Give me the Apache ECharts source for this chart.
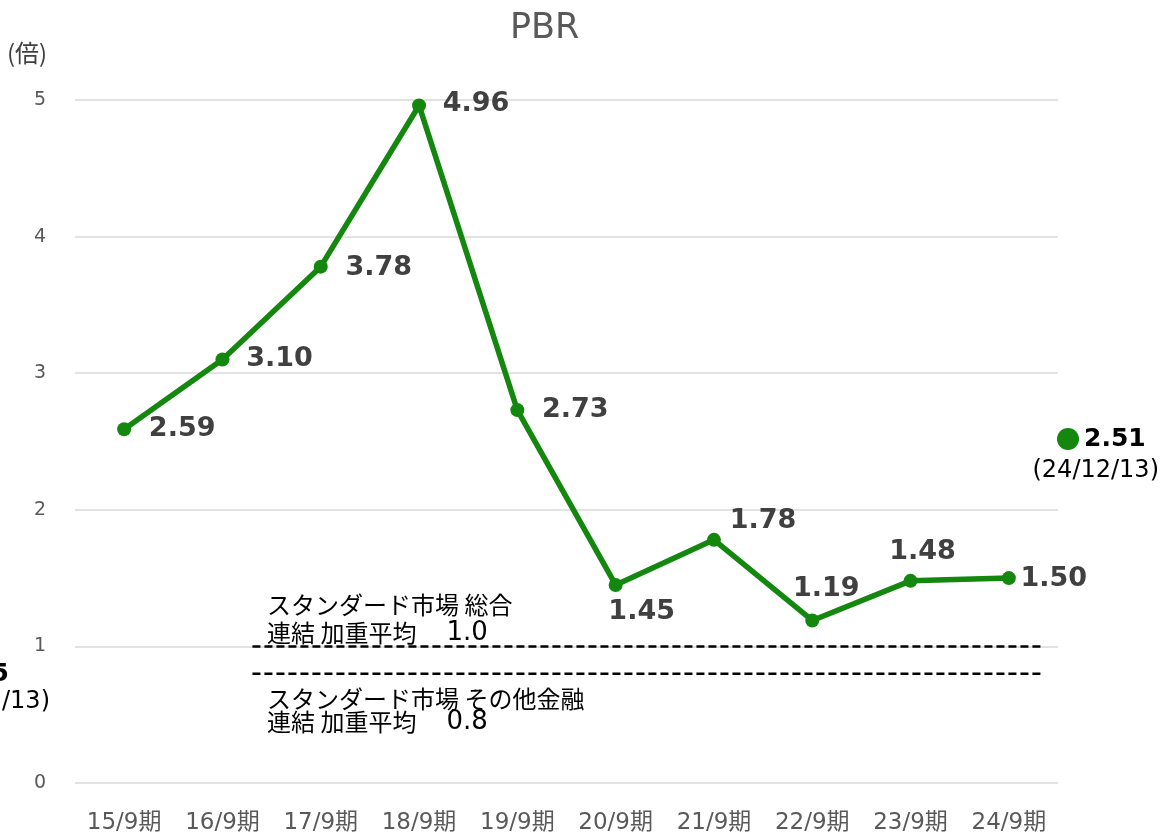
<!DOCTYPE html>
<html><head><meta charset="utf-8">
<script src="https://cdn.jsdelivr.net/npm/echarts@6/dist/echarts.min.js"></script>
<style>html,body{margin:0;padding:0;background:#fff}#c{width:1163px;height:836px}</style>
</head><body><div id="c"></div>
<script>
// ---- data ----
const categories = ['15/9期','16/9期','17/9期','18/9期','19/9期','20/9期','21/9期','22/9期','23/9期','24/9期'];
const pbrValues = [2.59, 3.10, 3.78, 4.96, 2.73, 1.45, 1.78, 1.19, 1.48, 1.50];
const yTickMin = 0, yTickMax = 5, yTickStep = 1;
const benchmarkTotal = 1.0;     // スタンダード市場 総合
const benchmarkFinance = 0.8;   // スタンダード市場 その他金融
const latestValue = 2.51;
const latestDate = '24/12/13';

// ---- styling ----
const FONT = "'DejaVu Sans','Noto Sans CJK JP',sans-serif";
const JP = "'Noto Sans CJK JP','DejaVu Sans',sans-serif";
const GREEN = '#13870e';
const labelOffsets = [[58,0],[57,-1],[58,1],[57,-1],[58,0],[26,27],[49,-19],[14,-31],[12,-29],[45,1]];
const dashSpan = [1.305, 9.36]; // horizontal extent of benchmark lines, in category units

const chart = echarts.init(document.getElementById('c'));
const seriesData = pbrValues.map((v, i) => ({
  value: v,
  label: { offset: labelOffsets[i] }
}));

chart.setOption({
  animation: false,
  title: {
    text: 'PBR', left: 505, top: 6,
    textStyle: { fontSize: 35, fontWeight: 'normal', color: '#595959', fontFamily: FONT }
  },
  grid: { left: 75, right: 105, top: 100, bottom: 53 },
  xAxis: [{
    type: 'category', data: categories, boundaryGap: true,
    axisLine: { show: false }, axisTick: { show: false },
    axisLabel: { color: '#595959', fontSize: 23, margin: 29, fontFamily: FONT }
  }, {
    type: 'value', min: -0.5, max: 9.5, show: false
  }],
  yAxis: {
    type: 'value', min: yTickMin, max: yTickMax, interval: yTickStep,
    axisLine: { show: false }, axisTick: { show: false },
    axisLabel: { color: '#595959', fontSize: 19, margin: 29, fontFamily: FONT },
    splitLine: { lineStyle: { color: '#d9d9d9', width: 1.5 } }
  },
  series: [{
    type: 'line', data: seriesData,
    symbol: 'circle', symbolSize: 14,
    lineStyle: { color: GREEN, width: 5.5 },
    itemStyle: { color: GREEN },
    label: {
      show: true, position: 'inside',
      formatter: p => p.value.toFixed(2),
      fontSize: 27, fontWeight: 'bold', color: '#404040', fontFamily: FONT
    },
    z: 3
  }, {
    type: 'line', xAxisIndex: 1, symbol: 'none', silent: true,
    data: [[dashSpan[0], benchmarkTotal], [dashSpan[1], benchmarkTotal]],
    lineStyle: { color: '#000', width: 2.5, type: [8, 4] }
  }, {
    type: 'line', xAxisIndex: 1, symbol: 'none', silent: true,
    data: [[dashSpan[0], benchmarkFinance], [dashSpan[1], benchmarkFinance]],
    lineStyle: { color: '#000', width: 2.5, type: [8, 4] }
  }],
  graphic: [
    { type: 'text', x: 7, y: 53, style: { text: '(倍)', fill: '#404040', font: '24px ' + JP, verticalAlign: 'middle' } },
    { type: 'text', x: 267, y: 605, style: { text: 'スタンダード市場 総合', fill: '#000', font: '24px ' + JP, verticalAlign: 'middle' } },
    { type: 'text', x: 267, y: 633, style: { text: '連結 加重平均　{n|' + benchmarkTotal.toFixed(1) + '}', fill: '#000', font: '24px ' + JP, verticalAlign: 'middle',
        rich: { n: { fontSize: 26, fontFamily: FONT, fill: '#000', padding: [0, 0, 0, 6] } } } },
    { type: 'text', x: 267, y: 699, style: { text: 'スタンダード市場 その他金融', fill: '#000', font: '24px ' + JP, verticalAlign: 'middle' } },
    { type: 'text', x: 267, y: 722, style: { text: '連結 加重平均　{n|' + benchmarkFinance.toFixed(1) + '}', fill: '#000', font: '24px ' + JP, verticalAlign: 'middle',
        rich: { n: { fontSize: 26, fontFamily: FONT, fill: '#000', padding: [0, 0, 0, 6] } } } },
    { type: 'circle', shape: { cx: 1068, cy: 439, r: 11 }, style: { fill: GREEN } },
    { type: 'text', x: 1084, y: 439, style: { text: latestValue.toFixed(2), fill: '#000', font: 'bold 25px ' + FONT, verticalAlign: 'middle' } },
    { type: 'text', x: 1159, y: 471, style: { text: '(' + latestDate + ')', fill: '#000', font: '24px ' + FONT, align: 'right', verticalAlign: 'middle' } },
    { type: 'text', x: 9, y: 674, style: { text: '0.75', fill: '#000', font: 'bold 25px ' + FONT, align: 'right', verticalAlign: 'middle' } },
    { type: 'text', x: 50, y: 702, style: { text: '(' + latestDate + ')', fill: '#000', font: '24px ' + FONT, align: 'right', verticalAlign: 'middle' } }
  ]
});
</script></body></html>
